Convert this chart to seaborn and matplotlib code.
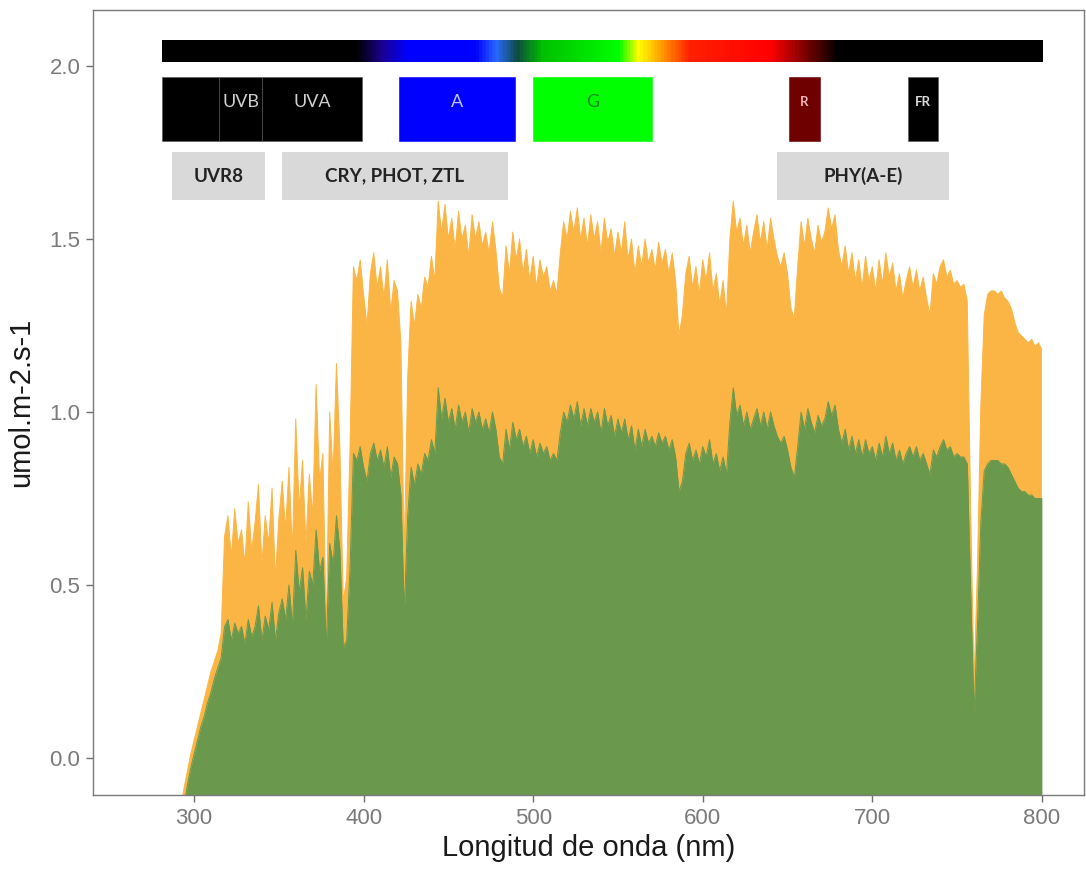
import numpy as np
import pandas as pd
import matplotlib
matplotlib.use("Agg")
import matplotlib.pyplot as plt
import seaborn as sns
from matplotlib.colors import LinearSegmentedColormap
from matplotlib.patches import Rectangle

# ---------------- data ----------------
wavelength_nm = list(range(292, 801, 2))

irradiance_open = [
    -0.15, -0.09, -0.04, 0.01, 0.05, 0.09, 0.13, 0.17, 0.21, 0.25,
    0.28, 0.31, 0.36, 0.64, 0.70, 0.58, 0.72, 0.62, 0.66, 0.56,
    0.74, 0.60, 0.68, 0.79, 0.56, 0.70, 0.62, 0.78, 0.52, 0.69,
    0.80, 0.66, 0.84, 0.60, 0.98, 0.72, 0.86, 0.62, 0.82, 0.70,
    1.08, 0.80, 0.88, 0.36, 1.00, 0.82, 1.14, 0.90, 0.45, 0.52,
    0.90, 1.42, 1.38, 1.44, 1.34, 1.25, 1.40, 1.46, 1.36, 1.42,
    1.33, 1.44, 1.29, 1.38, 1.35, 1.20, 0.58, 1.10, 1.32, 1.25,
    1.34, 1.30, 1.39, 1.36, 1.45, 1.38, 1.61, 1.52, 1.60, 1.50,
    1.56, 1.47, 1.58, 1.50, 1.54, 1.45, 1.57, 1.50, 1.55, 1.48,
    1.52, 1.46, 1.55, 1.47, 1.36, 1.33, 1.48, 1.40, 1.52, 1.44,
    1.50, 1.40, 1.47, 1.38, 1.45, 1.36, 1.44, 1.39, 1.42, 1.35,
    1.38, 1.34, 1.46, 1.55, 1.50, 1.58, 1.52, 1.59, 1.50, 1.56,
    1.48, 1.57, 1.50, 1.55, 1.46, 1.56, 1.49, 1.53, 1.45, 1.52,
    1.46, 1.55, 1.44, 1.50, 1.40, 1.48, 1.42, 1.50, 1.43, 1.47,
    1.41, 1.49, 1.43, 1.47, 1.40, 1.46, 1.38, 1.22, 1.28, 1.40,
    1.45, 1.36, 1.42, 1.34, 1.44, 1.38, 1.46, 1.35, 1.40, 1.31,
    1.38, 1.28, 1.50, 1.61, 1.52, 1.56, 1.48, 1.54, 1.46, 1.52,
    1.57, 1.49, 1.55, 1.47, 1.56, 1.50, 1.45, 1.42, 1.46, 1.40,
    1.30, 1.27, 1.42, 1.55, 1.48, 1.56, 1.50, 1.46, 1.54, 1.49,
    1.52, 1.59, 1.53, 1.57, 1.47, 1.42, 1.48, 1.40, 1.46, 1.38,
    1.44, 1.36, 1.45, 1.38, 1.42, 1.35, 1.44, 1.37, 1.46, 1.39,
    1.43, 1.35, 1.40, 1.33, 1.38, 1.42, 1.36, 1.41, 1.35, 1.39,
    1.33, 1.28, 1.40, 1.37, 1.42, 1.44, 1.39, 1.41, 1.37, 1.38,
    1.36, 1.37, 1.32, 0.72, 0.22, 0.55, 1.02, 1.28, 1.34, 1.35,
    1.35, 1.34, 1.35, 1.33, 1.32, 1.30, 1.26, 1.23, 1.22, 1.21,
    1.20, 1.21, 1.19, 1.20, 1.18,
]

irradiance_shade = [
    -0.20, -0.14, -0.08, -0.03, 0.01, 0.05, 0.09, 0.12, 0.16, 0.19,
    0.23, 0.26, 0.29, 0.38, 0.40, 0.34, 0.39, 0.36, 0.38, 0.33,
    0.40, 0.35, 0.38, 0.44, 0.34, 0.41, 0.37, 0.45, 0.34, 0.42,
    0.46, 0.40, 0.50, 0.38, 0.60, 0.48, 0.55, 0.40, 0.54, 0.50,
    0.66, 0.54, 0.58, 0.32, 0.62, 0.56, 0.70, 0.60, 0.32, 0.34,
    0.55, 0.88, 0.86, 0.90, 0.84, 0.80, 0.88, 0.91, 0.86, 0.89,
    0.84, 0.90, 0.81, 0.87, 0.85, 0.76, 0.42, 0.70, 0.84, 0.79,
    0.85, 0.82, 0.88, 0.86, 0.92, 0.88, 1.07, 0.98, 1.04, 0.97,
    1.01, 0.95, 1.02, 0.97, 1.00, 0.94, 1.01, 0.97, 1.00, 0.95,
    0.98, 0.94, 1.00, 0.95, 0.87, 0.85, 0.95, 0.89, 0.97, 0.92,
    0.95, 0.90, 0.93, 0.88, 0.92, 0.87, 0.91, 0.88, 0.90, 0.86,
    0.88, 0.86, 0.94, 1.00, 0.97, 1.02, 0.98, 1.03, 0.96, 1.01,
    0.96, 1.01, 0.97, 1.00, 0.94, 1.01, 0.96, 0.99, 0.93, 0.98,
    0.94, 0.98, 0.92, 0.96, 0.89, 0.95, 0.90, 0.95, 0.91, 0.93,
    0.90, 0.94, 0.91, 0.93, 0.89, 0.92, 0.87, 0.77, 0.80, 0.88,
    0.91, 0.86, 0.89, 0.85, 0.90, 0.87, 0.92, 0.85, 0.88, 0.83,
    0.87, 0.82, 0.97, 1.07, 0.99, 1.02, 0.96, 1.00, 0.95, 0.98,
    1.01, 0.96, 1.00, 0.95, 1.00, 0.96, 0.93, 0.91, 0.93, 0.89,
    0.84, 0.81, 0.90, 1.00, 0.95, 1.01, 0.97, 0.94, 0.99, 0.96,
    0.98, 1.03, 0.99, 1.02, 0.95, 0.91, 0.95, 0.89, 0.93, 0.88,
    0.92, 0.87, 0.92, 0.88, 0.90, 0.86, 0.91, 0.87, 0.93, 0.88,
    0.91, 0.86, 0.89, 0.85, 0.88, 0.90, 0.87, 0.90, 0.86, 0.88,
    0.85, 0.82, 0.89, 0.87, 0.90, 0.92, 0.89, 0.90, 0.87, 0.88,
    0.87, 0.87, 0.85, 0.48, 0.13, 0.38, 0.68, 0.83, 0.85, 0.86,
    0.86, 0.86, 0.85, 0.85, 0.84, 0.82, 0.80, 0.78, 0.77, 0.77,
    0.76, 0.76, 0.75, 0.75, 0.75,
]

# spectrum colour bar (wavelength -> colour stops)
spectrum_stop_nm = [281, 395, 410, 425, 465, 478, 490, 505, 550, 562, 575, 592, 640, 660, 680, 800]
spectrum_stop_color = ["#000000", "#000000", "#1a0090", "#0000ff", "#0000ff", "#2a6aff",
                       "#0f4a40", "#00c000", "#00ff00", "#ffff00", "#ffa000", "#ff2000",
                       "#ff0000", "#800000", "#000000", "#000000"]

# light-band boxes
band_labels = ["", "UVB", "UVA", "A", "G", "R", "FR"]
band_start_nm = [281, 315, 340, 421, 500, 651, 721]
band_end_nm = [315, 340, 399, 489, 570, 669, 739]
band_fill = ["#000000", "#000000", "#000000", "#0000ff", "#00ff00", "#6e0000", "#000000"]
band_text_color = ["#d9d9d9", "#d0d0d0", "#d0d0d0", "#c4c8ff", "#228b22", "#f0b4b4", "#dcdcdc"]
band_text_size = [13, 13, 13, 13, 13, 9.5, 9.5]

# photoreceptor boxes
receptor_labels = ["UVR8", "CRY, PHOT, ZTL", "PHY(A-E)"]
receptor_start_nm = [287, 352, 644]
receptor_end_nm = [342, 485, 745]

orange = "#FBB545"
green = "#6A994D"

df = pd.DataFrame({"nm": wavelength_nm,
                   "open": irradiance_open,
                   "shade": irradiance_shade})

# ---------------- plot ----------------
sns.set_theme(style="white")
plt.rcParams["font.family"] = ["Liberation Sans", "DejaVu Sans"]

fig = plt.figure(figsize=(10.86, 8.77), dpi=100)
ax = fig.add_axes([0.0856, 0.0935, 0.9125, 0.8951])

ylo, yhi = -0.107, 2.162
ax.fill_between(df["nm"], df["open"], ylo - 1, color=orange, lw=0, zorder=1)
sns.lineplot(data=df, x="nm", y="open", color=orange, lw=0.7, ax=ax, zorder=1)
ax.fill_between(df["nm"], df["shade"], ylo - 1, color=green, lw=0, zorder=2)
sns.lineplot(data=df, x="nm", y="shade", color=green, lw=0.7, ax=ax, zorder=2)

# spectrum bar
pos = [(v - spectrum_stop_nm[0]) / (spectrum_stop_nm[-1] - spectrum_stop_nm[0]) for v in spectrum_stop_nm]
cmap = LinearSegmentedColormap.from_list("spec", list(zip(pos, spectrum_stop_color)))
grad = np.linspace(0, 1, 800).reshape(1, -1)
ax.imshow(grad, cmap=cmap, aspect="auto", interpolation="bilinear",
          extent=[spectrum_stop_nm[0], spectrum_stop_nm[-1], 2.012, 2.075], zorder=3)

# band boxes
b0, b1 = 1.783, 1.968
for lab, s, e, fc, tc, fs in zip(band_labels, band_start_nm, band_end_nm, band_fill, band_text_color, band_text_size):
    ax.add_patch(Rectangle((s, b0), e - s, b1 - b0, facecolor=fc, edgecolor="#555555" if fc == "#000000" else fc,
                           lw=0.4, zorder=3))
    if lab:
        ax.text((s + e) / 2, (b0 + b1) / 2 + 0.02, lab, ha="center", va="center", color=tc,
                fontsize=fs, family=["Lato", "DejaVu Sans"], fontweight="bold" if lab in ("R", "FR") else "normal",
                zorder=4)

# receptor boxes
r0, r1 = 1.613, 1.751
for lab, s, e in zip(receptor_labels, receptor_start_nm, receptor_end_nm):
    ax.add_patch(Rectangle((s, r0), e - s, r1 - r0, facecolor="#d9d9d9", edgecolor="none", zorder=3))
    ax.text((s + e) / 2, (r0 + r1) / 2, lab, ha="center", va="center", color="#222222",
            fontsize=13.5, family=["Lato", "DejaVu Sans"], fontweight="bold", zorder=4)

ax.set_xlim(240.4, 824.8)
ax.set_ylim(ylo, yhi)
ax.set_xticks([300, 400, 500, 600, 700, 800])
ax.set_yticks([0.0, 0.5, 1.0, 1.5, 2.0])
ax.set_yticklabels(["0.0", "0.5", "1.0", "1.5", "2.0"])
ax.tick_params(axis="both", which="major", length=5, width=1, color="#6e6e6e",
               labelsize=16, labelcolor="#7a7a7a", direction="out", bottom=True, left=True, pad=4)
for sp in ax.spines.values():
    sp.set_color("#7a7a7a")
    sp.set_linewidth(1.0)
ax.set_xlabel("Longitud de onda (nm)", fontsize=21, color="#1a1a1a", labelpad=4)
ax.set_ylabel("umol.m-2.s-1", fontsize=21, color="#1a1a1a", labelpad=10)
ax.grid(False)

fig.savefig("out.png", dpi=100)
